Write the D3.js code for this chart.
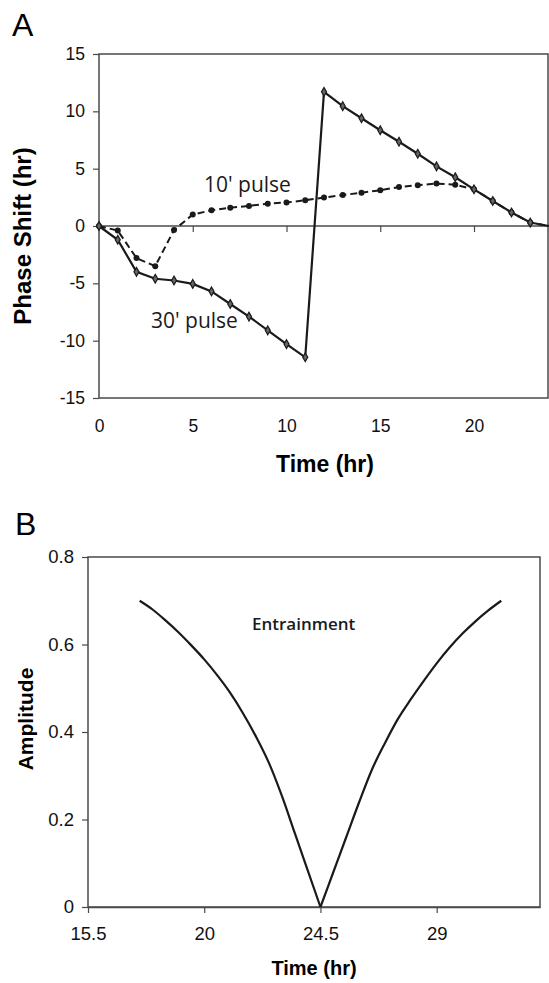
<!DOCTYPE html>
<html>
<head>
<meta charset="utf-8">
<script src="https://cdnjs.cloudflare.com/ajax/libs/d3/7.8.5/d3.min.js"></script>
<style>
  body { margin: 0; background: #fff; }
  svg { display: block; }
  .tick text { font-family: "Liberation Sans", Arial, sans-serif; fill: #111; }
</style>
</head>
<body>
<svg id="chart" width="549" height="983"></svg>
<script>
// Panel A: phase response, hourly pulse times
var hoursA = d3.range(0, 25);
var pulse30 = [0, -1.2, -4.0, -4.6, -4.75, -5.05, -5.7, -6.8, -7.9, -9.1, -10.3, -11.45,
               11.7, 10.45, 9.4, 8.35, 7.35, 6.3, 5.2, 4.25, 3.2, 2.18, 1.18, 0.3, 0];
var pulse10 = [0, -0.4, -2.8, -3.5, -0.35, 1.0, 1.37, 1.6, 1.75, 1.95, 2.05, 2.24,
               2.48, 2.7, 2.9, 3.12, 3.4, 3.55, 3.7, 3.6, 3.2, 2.18, 1.18, 0.3, 0];
var yTicksA = [-15, -10, -5, 0, 5, 10, 15];
var xTicksA = [0, 5, 10, 15, 20];

// Panel B: entrainment amplitude vs period
var periodB = [17.5, 18, 18.5, 19, 19.5, 20, 20.5, 21, 21.5, 22, 22.5, 23, 23.5, 24, 24.5,
               25, 25.5, 26, 26.5, 27, 27.5, 28, 28.5, 29, 29.5, 30, 30.5, 31, 31.5];
var ampB = [0.70, 0.68, 0.655, 0.628, 0.598, 0.566, 0.53, 0.49, 0.443, 0.39, 0.33, 0.255, 0.17, 0.085, 0,
            0.08, 0.16, 0.24, 0.315, 0.375, 0.43, 0.475, 0.517, 0.557, 0.593, 0.625, 0.653, 0.678, 0.70];
var yTicksB = [0, 0.2, 0.4, 0.6, 0.8];
var xTicksB = [15.5, 20, 24.5, 29];

var svg = d3.select("#chart");
var ink = "#1a1a1a", frame = "#4a4a4a";
var arial = "'Liberation Sans', Arial, sans-serif";
var human = "'Open Sans', 'Noto Sans', sans-serif";
var plain = function (d) { return String(d); };

// ---------- panel A ----------
var xA = d3.scaleLinear().domain([0, 24]).range([99, 549]);
var yA = d3.scaleLinear().domain([-15, 15]).range([398, 54]);

var gA = svg.append("g");
gA.append("rect")
    .attr("x", xA(0)).attr("y", yA(15))
    .attr("width", 548 - xA(0)).attr("height", yA(-15) - yA(15))
    .attr("fill", "none").attr("stroke", frame).attr("stroke-width", 1.5);

gA.append("g")
    .attr("transform", "translate(" + xA(0) + ",0)")
    .call(d3.axisLeft(yA).tickValues(yTicksA).tickSize(6).tickSizeOuter(0).tickPadding(8).tickFormat(plain))
    .call(function (g) { g.select(".domain").remove(); })
    .call(function (g) { g.selectAll("line").attr("stroke", frame).attr("stroke-width", 1.2); })
    .selectAll("text").attr("font-size", 17.5).attr("font-family", arial);

// zero line with ticks
gA.append("g")
    .attr("transform", "translate(0," + yA(0) + ")")
    .call(d3.axisBottom(xA).tickValues(xTicksA.slice(1)).tickSize(6).tickSizeOuter(0).tickFormat(""))
    .call(function (g) {
        g.select(".domain").attr("stroke", frame).attr("stroke-width", 1.5)
            .attr("d", "M" + xA(0) + ",0H548");
        g.selectAll("line").attr("stroke", frame).attr("stroke-width", 1.2);
    });

gA.append("g")
    .attr("transform", "translate(0," + yA(-15) + ")")
    .call(d3.axisBottom(xA).tickValues(xTicksA).tickSize(0).tickPadding(22).tickFormat(plain))
    .call(function (g) { g.select(".domain").remove(); })
    .selectAll("text").attr("font-size", 17.5).attr("font-family", arial);

var lineA = d3.line().x(function (d, i) { return xA(hoursA[i]); }).y(function (d) { return yA(d); });

gA.append("path").datum(pulse10)
    .attr("d", lineA).attr("fill", "none").attr("stroke", ink)
    .attr("stroke-width", 2).attr("stroke-dasharray", "7,4");
gA.append("path").datum(pulse30)
    .attr("d", lineA).attr("fill", "none").attr("stroke", ink).attr("stroke-width", 2.2);

gA.selectAll("circle.p10").data(pulse10.slice(0, 24)).enter().append("circle")
    .attr("class", "p10")
    .attr("cx", function (d, i) { return xA(hoursA[i]); })
    .attr("cy", function (d) { return yA(d); })
    .attr("r", 3).attr("fill", ink);

var diamond = d3.symbol().type(d3.symbolDiamond).size(22);
gA.selectAll("path.p30").data(pulse30.slice(0, 24)).enter().append("path")
    .attr("class", "p30")
    .attr("transform", function (d, i) { return "translate(" + xA(hoursA[i]) + "," + yA(d) + ")"; })
    .attr("d", diamond).attr("fill", "#666").attr("stroke", ink).attr("stroke-width", 1.2);

gA.append("text").text("10' pulse")
    .attr("x", 204).attr("y", 192)
    .attr("font-family", human).attr("font-size", 21).attr("fill", ink);
gA.append("text").text("30' pulse")
    .attr("x", 151).attr("y", 328)
    .attr("font-family", human).attr("font-size", 21).attr("fill", ink);

gA.append("text").text("A")
    .attr("x", 12).attr("y", 36)
    .attr("font-family", arial).attr("font-size", 32).attr("fill", "#000");
gA.append("text").text("Time (hr)")
    .attr("x", 325).attr("y", 472).attr("text-anchor", "middle")
    .attr("font-family", arial).attr("font-weight", "bold").attr("font-size", 23).attr("fill", "#000");
gA.append("text").text("Phase Shift (hr)")
    .attr("transform", "translate(31,236) rotate(-90)").attr("text-anchor", "middle")
    .attr("font-family", arial).attr("font-weight", "bold").attr("font-size", 24).attr("fill", "#000");

// ---------- panel B ----------
var xB = d3.scaleLinear().domain([15.5, 33]).range([88, 540]);
var yB = d3.scaleLinear().domain([0, 0.8]).range([907, 557]);

var gB = svg.append("g");
gB.append("rect")
    .attr("x", xB(15.5)).attr("y", yB(0.8))
    .attr("width", xB(33) - xB(15.5)).attr("height", yB(0) - yB(0.8))
    .attr("fill", "none").attr("stroke", frame).attr("stroke-width", 1.5);

gB.append("g")
    .attr("transform", "translate(" + xB(15.5) + ",0)")
    .call(d3.axisLeft(yB).tickValues(yTicksB).tickSize(6).tickSizeOuter(0).tickPadding(8)
        .tickFormat(function (d) { return d === 0 ? "0" : d3.format(".1f")(d); }))
    .call(function (g) { g.select(".domain").remove(); })
    .call(function (g) { g.selectAll("line").attr("stroke", frame).attr("stroke-width", 1.2); })
    .selectAll("text").attr("font-size", 18.5).attr("font-family", arial);

gB.append("g")
    .attr("transform", "translate(0," + yB(0) + ")")
    .call(d3.axisBottom(xB).tickValues(xTicksB).tickSize(6).tickSizeOuter(0).tickPadding(14).tickFormat(plain))
    .call(function (g) {
        g.select(".domain").attr("stroke", frame).attr("stroke-width", 1.5);
        g.selectAll("line").attr("stroke", frame).attr("stroke-width", 1.2);
    })
    .selectAll("text").attr("font-size", 18.5).attr("font-family", arial);

// two branches, so the minimum at 24.5 keeps its sharp point
var lineB = d3.line().curve(d3.curveMonotoneX)
    .x(function (d) { return xB(d[0]); })
    .y(function (d) { return yB(d[1]); });
var ptsB = periodB.map(function (p, i) { return [p, ampB[i]]; });
var iMin = ampB.indexOf(d3.min(ampB));
[ptsB.slice(0, iMin + 1), ptsB.slice(iMin)].forEach(function (branch) {
    gB.append("path").datum(branch)
        .attr("d", lineB)
        .attr("fill", "none").attr("stroke", ink).attr("stroke-width", 2.2);
});

gB.append("text").text("Entrainment")
    .attr("x", 252).attr("y", 630)
    .attr("font-family", human).attr("font-weight", 600).attr("font-size", 17).attr("fill", ink);

gB.append("text").text("B")
    .attr("x", 15).attr("y", 535)
    .attr("font-family", arial).attr("font-size", 32).attr("fill", "#000");
gB.append("text").text("Time (hr)")
    .attr("x", 314).attr("y", 975).attr("text-anchor", "middle")
    .attr("font-family", arial).attr("font-weight", "bold").attr("font-size", 20).attr("fill", "#000");
gB.append("text").text("Amplitude")
    .attr("transform", "translate(33,719) rotate(-90)").attr("text-anchor", "middle")
    .attr("font-family", arial).attr("font-weight", "bold").attr("font-size", 21).attr("fill", "#000");
</script>
</body>
</html>
